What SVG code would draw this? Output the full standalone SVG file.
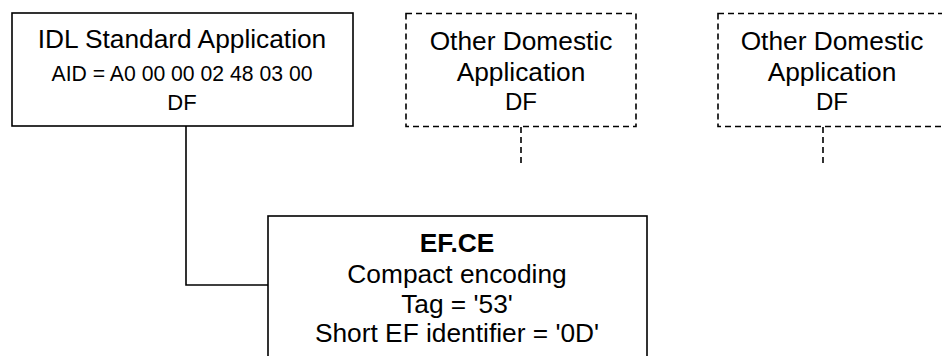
<svg xmlns="http://www.w3.org/2000/svg" width="942" height="356" viewBox="0 0 942 356">
<style>
.box{fill:#fff;stroke:#000;stroke-width:1.6}
.dbox{fill:#fff;stroke:#000;stroke-width:1.6;stroke-dasharray:6 4}
.conn{fill:none;stroke:#000;stroke-width:1.6}
.dconn{fill:none;stroke:#000;stroke-width:1.6;stroke-dasharray:6 4}
text{font-family:"Liberation Sans",Arial,sans-serif;fill:#000;text-anchor:middle}
.t{font-size:26.3px}
.s{font-size:21.2px}
.df1{font-size:22px}
.df2{font-size:24px}
.b{font-size:26.3px;font-weight:bold}
</style>
<rect width="942" height="356" fill="#fff"/>
<g id="connectors">
<polyline class="conn" points="186,126 186,285 268,285"/>
<line class="dconn" x1="521" y1="127" x2="521" y2="165"/>
<line class="dconn" x1="823" y1="127" x2="823" y2="165"/>
</g>
<g id="idl">
<rect class="box" x="12" y="13" width="341" height="113"/>
<text class="t" x="182" y="48">IDL Standard Application</text>
<text class="s" x="182" y="81">AID = A0 00 00 02 48 03 00</text>
<text class="df1" x="182" y="110">DF</text>
</g>
<g id="other1">
<rect class="dbox" x="406" y="13.5" width="230" height="113"/>
<text class="t" x="521" y="50">Other Domestic</text>
<text class="t" x="521" y="81">Application</text>
<text class="df2" x="521" y="110">DF</text>
</g>
<g id="other2">
<rect class="dbox" x="718" y="13.5" width="230" height="113"/>
<text class="t" x="832" y="50">Other Domestic</text>
<text class="t" x="832" y="81">Application</text>
<text class="df2" x="832" y="110">DF</text>
</g>
<g id="efce">
<rect class="box" x="268" y="216" width="379" height="160"/>
<text class="b" x="457" y="252">EF.CE</text>
<text class="t" x="457" y="283">Compact encoding</text>
<text class="t" x="457" y="313">Tag = '53'</text>
<text class="t" x="457" y="342">Short EF identifier = '0D'</text>
</g>
</svg>
